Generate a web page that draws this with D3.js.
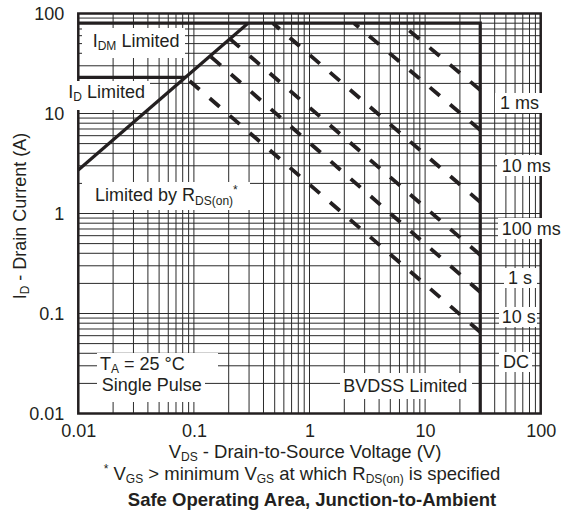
<!DOCTYPE html>
<html>
<head>
<meta charset="utf-8">
<script src="https://cdn.jsdelivr.net/npm/d3@7"></script>
<style>
  body { margin: 0; background: #fff; }
  svg text { font-family: "Liberation Sans", Arial, Helvetica, sans-serif; fill: #231f20; }
</style>
</head>
<body>
<div id="chart"></div>
<script>
  // tick labels (both axes are log, 0.01 .. 100)
  const xTickValues = [0.01, 0.1, 1, 10, 100];
  const xTickLabels = ["0.01", "0.1", "1", "10", "100"];
  const yTickValues = [0.01, 0.1, 1, 10, 100];
  const yTickLabels = ["0.01", "0.1", "1", "10", "100"];

  // boundary limits
  const idmLimit = 80;      // A, pulsed drain current
  const idLimit = 23;       // A, continuous drain current
  const bvdss = 30;         // V
  const rdsOn = 0.00367;    // ohm, slope of the RDS(on) line

  // pulse curves: start point (V, A) and current where they hit BVDSS
  const pulseNames = ["1 ms", "10 ms", "100 ms", "1 s", "10 s", "DC"];
  const pulseStartV = [6.12, 2.43, 0.483, 0.205, 0.138, 0.0845];
  const pulseStartI = [80, 80, 80, 55.8, 37.6, 23];
  const pulseEndI = [17.2, 6.84, 1.30, 0.385, 0.164, 0.0653];

  const W = 561, H = 514;
  const margin = { top: 13.5, left: 78.3, right: 20.3, bottom: 100.5 };
  const x = d3.scaleLog().domain([0.01, 100]).range([margin.left, W - margin.right]);
  const y = d3.scaleLog().domain([0.01, 100]).range([H - margin.bottom, margin.top]);
  const ink = "#231f20";

  const svg = d3.select("#chart").append("svg")
    .attr("width", W).attr("height", H);

  // grid: every 1..9 of each decade
  const grid = svg.append("g").attr("stroke", "#2b2b2b").attr("stroke-width", 1);
  grid.selectAll(".gx").data(x.ticks()).join("line")
    .attr("x1", d => x(d)).attr("x2", d => x(d))
    .attr("y1", y(100)).attr("y2", y(0.01));
  grid.selectAll(".gy").data(y.ticks()).join("line")
    .attr("y1", d => y(d)).attr("y2", d => y(d))
    .attr("x1", x(0.01)).attr("x2", x(100));

  // frame
  svg.append("rect")
    .attr("x", x(0.01)).attr("y", y(100))
    .attr("width", x(100) - x(0.01)).attr("height", y(0.01) - y(100))
    .attr("fill", "none").attr("stroke", ink).attr("stroke-width", 2.5);

  // axes labels
  svg.append("g")
    .attr("transform", `translate(0, ${y(0.01)})`)
    .call(d3.axisBottom(x).tickValues(xTickValues).tickFormat((d, i) => xTickLabels[i]).tickSize(0).tickPadding(11))
    .call(g => g.select(".domain").remove())
    .attr("font-size", 18).attr("font-family", null);

  svg.append("g")
    .attr("transform", `translate(${x(0.01)}, 0)`)
    .call(d3.axisLeft(y).tickValues(yTickValues).tickFormat((d, i) => yTickLabels[i]).tickSize(0).tickPadding(14))
    .call(g => g.select(".domain").remove())
    .attr("font-size", 18).attr("font-family", null);

  // text with sub / superscripts
  function richText(g, x0, y0, parts, anchor, size) {
    const t = g.append("text")
      .attr("x", x0).attr("y", y0)
      .attr("font-size", size || 18)
      .attr("text-anchor", anchor || "start")
      .style("white-space", "pre");
    let shift = 0;
    parts.forEach(p => {
      const str = typeof p === "string" ? p : p[0];
      const kind = typeof p === "string" ? "" : p[1];
      const target = kind === "sub" ? 3.5 : kind === "sup" ? -7 : 0;
      t.append("tspan")
        .attr("dy", target - shift)
        .attr("font-size", kind ? 12 : null)
        .text(str);
      shift = target;
    });
    return t;
  }

  // labels inside the plot, each on a white patch that hides the grid
  const labels = [
    { parts: ["I", ["DM", "sub"], " Limited"], at: [92.7, 46.7], box: [82, 28, 185, 58] },
    { parts: ["I", ["D", "sub"], " Limited"], at: [68.3, 97.7], box: [63, 81, 150, 110] },
    { parts: ["Limited by R", ["DS(on)", "sub"], ["*", "sup"]], at: [95, 201], box: [82, 182, 250, 210] },
    { parts: ["T", ["A", "sub"], " = 25 \u00b0C"], at: [100, 369.5], box: [97, 353, 218, 377] },
    { parts: ["Single Pulse"], at: [101.7, 390.5], box: [97, 374, 205, 402] },
    { parts: ["BVDSS Limited"], at: [343.3, 391.7], box: [340, 373, 472, 399] }
  ];
  const pulseLabelAt = [[500, 109], [501.7, 171.7], [501.7, 235], [508, 284], [501.7, 323], [503, 368]];
  const pulseLabelBox = [
    [495, 93, 545, 113], [497, 155, 555, 176], [498, 218, 561, 239],
    [504, 268, 537, 288], [499, 307, 537, 327], [499, 352, 532, 372]
  ];
  pulseNames.forEach((n, i) => labels.push({ parts: [n], at: pulseLabelAt[i], box: pulseLabelBox[i] }));

  const lab = svg.append("g");
  lab.selectAll("rect").data(labels).join("rect")
    .attr("x", d => d.box[0]).attr("y", d => d.box[1])
    .attr("width", d => d.box[2] - d.box[0]).attr("height", d => d.box[3] - d.box[1])
    .attr("fill", "#fff");
  labels.forEach(d => richText(lab, d.at[0], d.at[1], d.parts));

  // limit lines
  const line = d3.line().x(d => x(d[0])).y(d => y(d[1]));
  const limits = svg.append("g")
    .attr("fill", "none").attr("stroke", ink).attr("stroke-width", 3.2);
  limits.append("path").attr("d", line([[0.01, idLimit], [idLimit * rdsOn, idLimit]]));
  limits.append("path").attr("d", line([[0.01, 0.01 / rdsOn], [idmLimit * rdsOn, idmLimit]]));
  limits.append("path").attr("d", line([[0.01, idmLimit], [bvdss, idmLimit], [bvdss, 0.01]]));

  // pulse curves, dashed from the BVDSS line back up to their start
  svg.append("g")
    .attr("fill", "none").attr("stroke", ink).attr("stroke-width", 3.8)
    .attr("stroke-dasharray", "13,13.5")
    .selectAll("path").data(pulseNames).join("path")
    .attr("d", (d, i) => line([[bvdss, pulseEndI[i]], [pulseStartV[i], pulseStartI[i]]]));

  // axis titles and captions
  const yt = svg.append("g").attr("transform", "translate(25.5, 216) rotate(-90)");
  richText(yt, 0, 0, ["I", ["D", "sub"], " - Drain Current (A)"], "middle");
  richText(svg, 305, 457.5, ["V", ["DS", "sub"], " - Drain-to-Source Voltage (V)"], "middle", 18.5);
  richText(svg, 302, 479.5, [["*", "sup"], " V", ["GS", "sub"], " > minimum V", ["GS", "sub"], " at which R", ["DS(on)", "sub"], " is specified"], "middle", 18.5);
  richText(svg, 312, 506, ["Safe Operating Area, Junction-to-Ambient"], "middle", 18.5)
    .attr("font-weight", "bold");
</script>
</body>
</html>
